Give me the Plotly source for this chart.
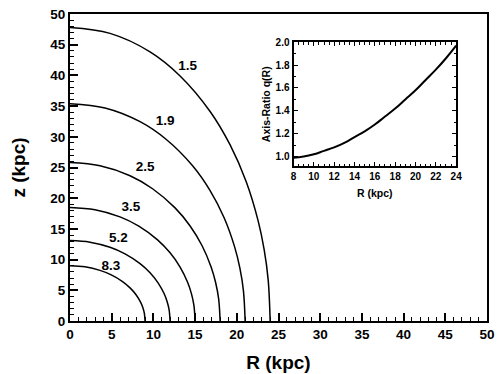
import plotly.graph_objects as go

# Contour levels and their (R, z) points
levels = ["8.3", "5.2", "3.5", "2.5", "1.9", "1.5"]
R_83 = [0, 1.8, 3.6, 4.95, 6.3, 7.2, 7.92, 8.46, 8.73, 8.91, 9.0]
z_83 = [9.0, 8.82, 8.25, 7.52, 6.43, 5.4, 4.28, 3.07, 2.19, 1.27, 0]
R_52 = [0, 2.4, 4.8, 6.6, 8.4, 9.6, 10.56, 11.28, 11.64, 11.88, 12]
z_52 = [13.1, 12.84, 12.01, 10.94, 9.35, 7.86, 6.22, 4.47, 3.18, 1.85, 0]
R_35 = [0, 3, 6, 8.25, 10.5, 12, 13.2, 14.1, 14.55, 14.85, 15]
z_35 = [18.5, 18.13, 16.96, 15.45, 13.21, 11.1, 8.79, 6.31, 4.5, 2.61, 0]
R_25 = [0, 3.6, 7.2, 9.9, 12.6, 14.4, 15.84, 16.92, 17.46, 17.82, 18]
z_25 = [25.8, 25.28, 23.66, 21.54, 18.42, 15.48, 12.26, 8.8, 6.27, 3.64, 0]
R_19 = [0, 4.2, 8.4, 11.55, 14.7, 16.8, 18.48, 19.74, 20.37, 20.79, 21]
z_19 = [35.4, 34.69, 32.46, 29.56, 25.28, 21.24, 16.82, 12.07, 8.6, 4.99, 0]
R_15 = [0, 4.8, 9.6, 13.2, 16.8, 19.2, 21.12, 22.56, 23.28, 23.76, 24]
z_15 = [47.8, 46.84, 43.83, 39.91, 34.13, 28.68, 22.71, 16.3, 11.62, 6.74, 0]

# Label positions for the contour levels
label_R = [4.9, 5.8, 7.3, 9.0, 11.4, 14.1]
label_z = [8.9, 13.4, 18.4, 24.9, 32.4, 41.5]

# Inset: axis ratio q(R)
inset_R = [8, 9, 10, 11, 12, 13, 14, 15, 16, 17, 18, 19, 20, 21, 22, 23, 24]
inset_q = [0.99, 1.00, 1.02, 1.05, 1.08, 1.12, 1.17, 1.22, 1.28, 1.35, 1.42,
           1.50, 1.58, 1.67, 1.76, 1.86, 1.97]

FONT = "Liberation Sans, Arial, sans-serif"

fig = go.Figure()
curves = [(R_83, z_83), (R_52, z_52), (R_35, z_35), (R_25, z_25), (R_19, z_19), (R_15, z_15)]
for (rr, zz) in curves:
    fig.add_trace(go.Scatter(x=rr, y=zz, mode="lines",
                             line=dict(color="black", width=1.5, shape="spline", smoothing=1.0),
                             showlegend=False, hoverinfo="skip"))

fig.add_trace(go.Scatter(x=label_R, y=label_z, mode="text", text=levels,
                         textfont=dict(family=FONT, size=13.5, color="black", weight="bold"),
                         showlegend=False, hoverinfo="skip"))

fig.add_trace(go.Scatter(x=inset_R, y=inset_q, mode="lines", xaxis="x2", yaxis="y2",
                         line=dict(color="black", width=2, shape="spline", smoothing=1.3),
                         showlegend=False, hoverinfo="skip"))

tickfont_main = dict(family=FONT, size=13.5, color="black", weight="bold")
tickfont_in = dict(family=FONT, size=10, color="black", weight="bold")

fig.update_layout(
    width=499, height=374,
    margin=dict(l=70, r=4, t=14, b=52),
    paper_bgcolor="white", plot_bgcolor="white",
    font=dict(family=FONT, color="black"),
    xaxis=dict(range=[0, 50], dtick=5, tick0=0, ticks="inside", ticklen=8, tickwidth=1.6,
               tickcolor="black", minor=dict(dtick=1, ticks="inside", ticklen=4, tickwidth=1.3, tickcolor="black"),
               showline=True, linewidth=2, linecolor="black", mirror=True,
               showgrid=False, zeroline=False, tickfont=tickfont_main,
               title=dict(text="R (kpc)", font=dict(family=FONT, size=19, weight="bold"), standoff=14)),
    yaxis=dict(range=[0, 50], dtick=5, tick0=0, ticks="inside", ticklen=8, tickwidth=1.6,
               tickcolor="black", minor=dict(dtick=1, ticks="inside", ticklen=4, tickwidth=1.3, tickcolor="black"),
               showline=True, linewidth=2, linecolor="black", mirror=True,
               showgrid=False, zeroline=False, tickfont=tickfont_main,
               title=dict(text="z (kpc)", font=dict(family=FONT, size=19, weight="bold"), standoff=20)),
    xaxis3=dict(range=[0, 50], overlaying="x", side="top", anchor="y", dtick=5, tick0=0,
                ticks="inside", ticklen=5, tickwidth=1.6, tickcolor="black",
                minor=dict(dtick=1, ticks="inside", ticklen=3, tickwidth=1.3, tickcolor="black"),
                showticklabels=False, showgrid=False, zeroline=False, showline=False),
    yaxis3=dict(range=[0, 50], overlaying="y", side="right", anchor="x", dtick=5, tick0=0,
                ticks="inside", ticklen=5, tickwidth=1.6, tickcolor="black",
                minor=dict(dtick=1, ticks="inside", ticklen=3, tickwidth=1.3, tickcolor="black"),
                showticklabels=False, showgrid=False, zeroline=False, showline=False),
    xaxis2=dict(domain=[0.536, 0.926], anchor="y2", range=[8, 24], dtick=2, tick0=8,
                ticks="inside", ticklen=4, tickwidth=1.2, tickcolor="black",
                minor=dict(dtick=0.5, ticks="inside", ticklen=2.5, tickwidth=1, tickcolor="black"),
                showline=True, linewidth=2, linecolor="black", mirror="ticks",
                showgrid=False, zeroline=False, tickfont=tickfont_in,
                title=dict(text="R (kpc)", font=dict(family=FONT, size=10.5, weight="bold"), standoff=8)),
    yaxis2=dict(domain=[0.504, 0.908], anchor="x2", range=[0.915, 2.0], dtick=0.2, tick0=1.0,
                tickformat=".1f",
                ticks="inside", ticklen=4, tickwidth=1.2, tickcolor="black",
                minor=dict(dtick=0.1, tick0=1.0, ticks="inside", ticklen=2.5, tickwidth=1, tickcolor="black"),
                showline=True, linewidth=2, linecolor="black", mirror="ticks",
                showgrid=False, zeroline=False, tickfont=tickfont_in,
                title=dict(text="Axis-Ratio q(R)", font=dict(family=FONT, size=10.5, weight="bold"), standoff=3)),
)

fig.write_html("out.html")
